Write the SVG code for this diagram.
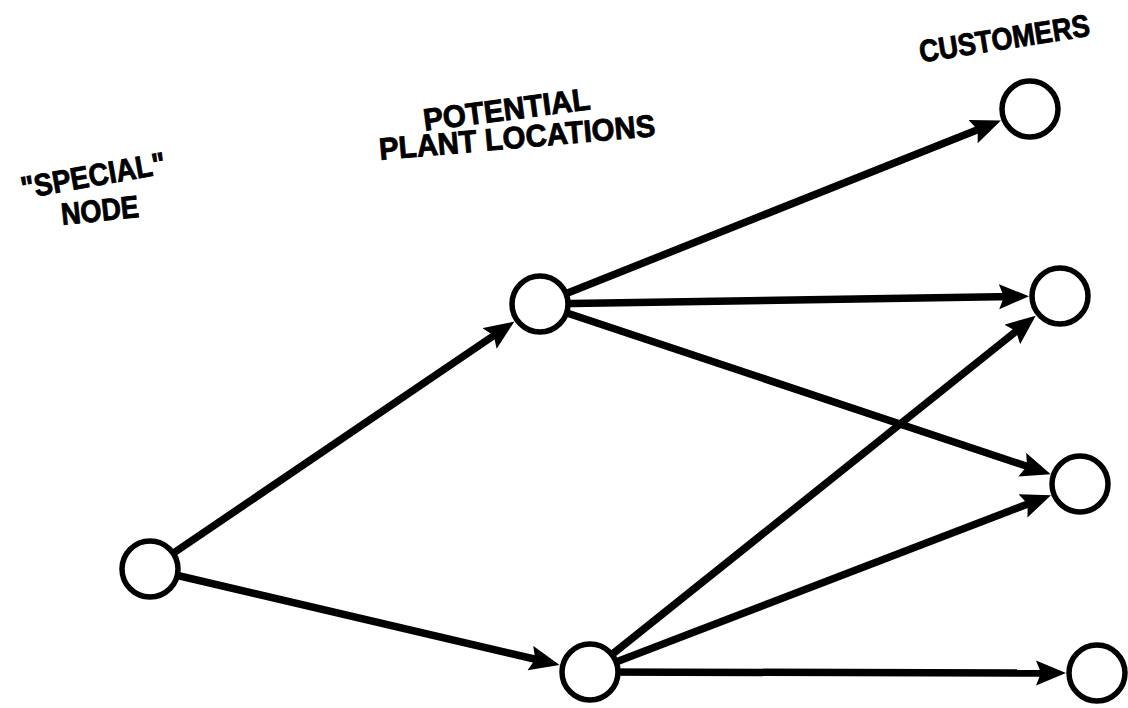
<svg xmlns="http://www.w3.org/2000/svg" width="1128" height="708" viewBox="0 0 1128 708">
  <defs>
    <marker id="arrow" markerUnits="userSpaceOnUse" markerWidth="32" markerHeight="28" refX="15" refY="12.5" orient="auto">
      <path d="M0,0 L30,12.5 L0,25 L5,12.5 Z" fill="#000"/>
    </marker>
    <style>
      .edge { stroke: #000; stroke-width: 7.5; fill: none; marker-end: url(#arrow); }
      .node { fill: #fff; stroke: #000; stroke-width: 5.5; }
      .label { font-family: "Liberation Sans", Arial, sans-serif; font-weight: bold; font-size: 31px; fill: #000; stroke: #000; stroke-width: 0.9; text-anchor: middle; }
    </style>
  </defs>
  <rect width="1128" height="708" fill="#fff"/>

  <!-- column headings -->
  <g id="labels">
    <text class="label" transform="translate(95,186) rotate(-10)" textLength="146" lengthAdjust="spacingAndGlyphs">"SPECIAL"</text>
    <text class="label" transform="translate(101,221) rotate(-6)" textLength="78" lengthAdjust="spacingAndGlyphs">NODE</text>
    <text class="label" transform="translate(508,120) rotate(-7.4)" textLength="168" lengthAdjust="spacingAndGlyphs">POTENTIAL</text>
    <text class="label" transform="translate(518,148) rotate(-5)" textLength="277" lengthAdjust="spacingAndGlyphs">PLANT LOCATIONS</text>
    <text class="label" transform="translate(1006,49) rotate(-9)" textLength="172" lengthAdjust="spacingAndGlyphs">CUSTOMERS</text>
  </g>

  <!-- arcs: special node -> plants -> customers -->
  <g id="connectors">
    <line class="edge" x1="150" y1="569" x2="502" y2="330"/>
    <line class="edge" x1="150" y1="569" x2="545" y2="661.5"/>
    <line class="edge" x1="540" y1="304" x2="987" y2="126"/>
    <line class="edge" x1="540" y1="304" x2="1014" y2="296.5"/>
    <line class="edge" x1="540" y1="304" x2="1036.5" y2="469.5"/>
    <line class="edge" x1="590" y1="672" x2="1024" y2="325"/>
    <line class="edge" x1="590" y1="672" x2="1037" y2="500.5"/>
    <line class="edge" x1="590" y1="672" x2="1051" y2="673"/>
  </g>

  <g id="node-special"><circle class="node" cx="150" cy="569" r="28"/></g>
  <g id="node-plant-1"><circle class="node" cx="540" cy="304" r="28"/></g>
  <g id="node-plant-2"><circle class="node" cx="590" cy="672" r="28"/></g>
  <g id="node-customer-1"><circle class="node" cx="1030" cy="109" r="28"/></g>
  <g id="node-customer-2"><circle class="node" cx="1060" cy="296" r="28"/></g>
  <g id="node-customer-3"><circle class="node" cx="1080" cy="484" r="28"/></g>
  <g id="node-customer-4"><circle class="node" cx="1097" cy="673" r="28"/></g>
</svg>
